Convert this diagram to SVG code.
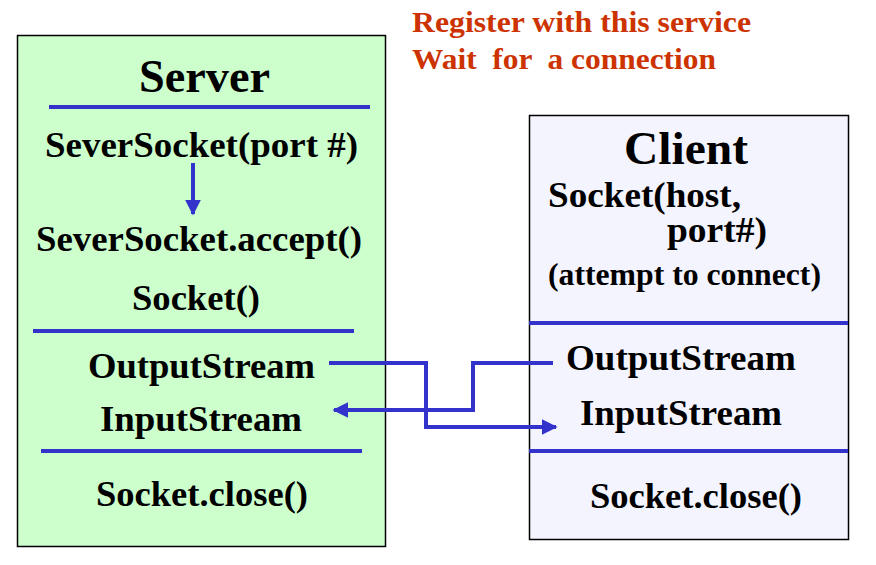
<svg xmlns="http://www.w3.org/2000/svg" width="876" height="565" viewBox="0 0 876 565">
<defs>
<style>
text{font-family:'Liberation Serif','Times New Roman',serif;font-weight:bold;fill:#000;font-size:36px}
.big{font-size:46px}
.red{fill:#cc3300;font-size:30px}
.sep{stroke:#3333cc;stroke-width:4;fill:none}
.con{stroke:#3333cc;stroke-width:4;fill:none}
</style>
<marker id="ah" viewBox="0 0 10 10" refX="9" refY="5" markerWidth="4" markerHeight="4" orient="auto" markerUnits="strokeWidth">
<path d="M0,0 L10,5 L0,10 z" fill="#3333cc"/>
</marker>
</defs>
<rect width="876" height="565" fill="#fff"/>
<g id="note">
<text class="red" x="412" y="32" textLength="339" lengthAdjust="spacingAndGlyphs">Register with this service</text>
<text class="red" x="412" y="69" xml:space="preserve" textLength="304" lengthAdjust="spacingAndGlyphs">Wait  for  a connection</text>
</g>
<g id="server">
<rect x="17.5" y="35.5" width="368" height="511" fill="#ccffcc" stroke="#000" stroke-width="1.5"/>
<text class="big" x="139" y="92" textLength="131" lengthAdjust="spacingAndGlyphs">Server</text>
<line class="sep" x1="49" y1="107" x2="370" y2="107"/>
<text x="45" y="157" textLength="313" lengthAdjust="spacingAndGlyphs">SeverSocket(port #)</text>
<text x="36" y="251" textLength="326" lengthAdjust="spacingAndGlyphs">SeverSocket.accept()</text>
<text x="132" y="310" textLength="128" lengthAdjust="spacingAndGlyphs">Socket()</text>
<line class="sep" x1="33" y1="331" x2="354" y2="331"/>
<text x="88" y="378" textLength="227" lengthAdjust="spacingAndGlyphs">OutputStream</text>
<text x="100" y="431" textLength="202" lengthAdjust="spacingAndGlyphs">InputStream</text>
<line class="sep" x1="41" y1="451" x2="362" y2="451"/>
<text x="96" y="506" textLength="212" lengthAdjust="spacingAndGlyphs">Socket.close()</text>
</g>
<g id="client">
<rect x="529.5" y="115.5" width="319" height="424" fill="#f4f4ff" stroke="#000" stroke-width="1.5"/>
<text class="big" x="624" y="164" textLength="124" lengthAdjust="spacingAndGlyphs">Client</text>
<text x="548" y="207" textLength="193" lengthAdjust="spacingAndGlyphs">Socket(host,</text>
<text x="667" y="242" textLength="100" lengthAdjust="spacingAndGlyphs">port#)</text>
<text x="548" y="285" style="font-size:31px" textLength="273" lengthAdjust="spacingAndGlyphs">(attempt to connect)</text>
<line class="sep" x1="529" y1="323" x2="848" y2="323"/>
<text x="566" y="370" textLength="230" lengthAdjust="spacingAndGlyphs">OutputStream</text>
<text x="580" y="425" textLength="202" lengthAdjust="spacingAndGlyphs">InputStream</text>
<line class="sep" x1="529" y1="451" x2="848" y2="451"/>
<text x="590" y="508" textLength="212" lengthAdjust="spacingAndGlyphs">Socket.close()</text>
</g>
<g id="connectors">
<path class="con" d="M193,163 L193,214" marker-end="url(#ah)"/>
<path class="con" d="M329,363 L426,363 L426,427 L556,427" marker-end="url(#ah)"/>
<path class="con" d="M553,363 L473,363 L473,410 L334,410" marker-end="url(#ah)"/>
</g>
</svg>
